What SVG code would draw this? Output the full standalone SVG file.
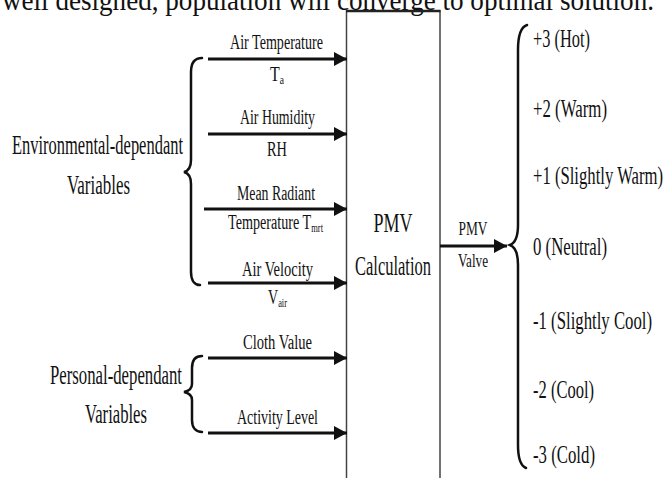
<svg xmlns="http://www.w3.org/2000/svg" width="665" height="478" viewBox="0 0 665 478">
<defs>
<style>
text{font-family:"Liberation Serif","Times New Roman",serif;fill:#111}
.lbl{font-size:20px}
.grp{font-size:27px}
.out{font-size:25px}
.conn{stroke:#111;stroke-width:3;fill:none}
.brace{stroke:#111;stroke-width:2.5;fill:none;stroke-linecap:round}
</style>
<marker id="ah" markerUnits="userSpaceOnUse" markerWidth="14" markerHeight="14" refX="13" refY="7" orient="auto">
<path d="M0,0 L13,7 L0,14 Z" fill="#111"/>
</marker>
</defs>
<rect width="665" height="478" fill="#fff"/>
<text x="2" y="10" font-size="29" textLength="652" lengthAdjust="spacingAndGlyphs">well designed, population will converge to optimal solution.</text>

<g id="pmv-calc">
<rect x="346.5" y="11" width="93.5" height="480" fill="none" stroke="#444" stroke-width="1.5"/>
<line x1="346" y1="11" x2="440.5" y2="11" stroke="#222" stroke-width="2.5"/>
<text x="393" y="232" font-size="27" text-anchor="middle" textLength="39" lengthAdjust="spacingAndGlyphs">PMV</text>
<text x="393" y="275" font-size="27" text-anchor="middle" textLength="76" lengthAdjust="spacingAndGlyphs">Calculation</text>
</g>

<g id="env-group">
<path class="brace" d="M202,58 C195,58 191,62 191,72 L191,160 C191,168 188,171 184,172 C188,173 191,176 191,184 L191,272 C191,281 195,285 200,285"/>
<text class="grp" x="12" y="154" textLength="171" lengthAdjust="spacingAndGlyphs">Environmental-dependant</text>
<text class="grp" x="67" y="194" textLength="63" lengthAdjust="spacingAndGlyphs">Variables</text>
</g>

<g id="personal-group">
<path class="brace" d="M202,356 C195,356 192,360 192,368 L192,384 C192,389 189,391 184,392 C189,393 192,395 192,400 L192,420 C192,428 196,432 202,432"/>
<text class="grp" x="50" y="384" textLength="132" lengthAdjust="spacingAndGlyphs">Personal-dependant</text>
<text class="grp" x="85" y="423" textLength="62" lengthAdjust="spacingAndGlyphs">Variables</text>
</g>

<g id="air-temperature">
<text class="lbl" x="230" y="49" textLength="93" lengthAdjust="spacingAndGlyphs">Air Temperature</text>
<text class="lbl" x="270" y="81" textLength="14" lengthAdjust="spacingAndGlyphs">T<tspan font-size="12" dy="3">a</tspan></text>
</g>
<g id="air-humidity">
<text class="lbl" x="240" y="124" textLength="75" lengthAdjust="spacingAndGlyphs">Air Humidity</text>
<text class="lbl" x="267" y="156" textLength="20" lengthAdjust="spacingAndGlyphs">RH</text>
</g>
<g id="mean-radiant">
<text class="lbl" x="237" y="200" textLength="78" lengthAdjust="spacingAndGlyphs">Mean Radiant</text>
<text class="lbl" x="228" y="229" textLength="95" lengthAdjust="spacingAndGlyphs">Temperature T<tspan font-size="12" dy="3">mrt</tspan></text>
</g>
<g id="air-velocity">
<text class="lbl" x="242" y="276" textLength="71" lengthAdjust="spacingAndGlyphs">Air Velocity</text>
<text class="lbl" x="268" y="304" textLength="19" lengthAdjust="spacingAndGlyphs">V<tspan font-size="12" dy="3">air</tspan></text>
</g>
<g id="cloth-value">
<text class="lbl" x="243" y="349" textLength="69" lengthAdjust="spacingAndGlyphs">Cloth Value</text>
</g>
<g id="activity-level">
<text class="lbl" x="237" y="424" textLength="81" lengthAdjust="spacingAndGlyphs">Activity Level</text>
</g>

<g id="pmv-scale">
<path class="brace" stroke-width="3" d="M527,25 C521,27 518,34 518,50 L518,225 C518,236 515,243 510,245 C515,247 518,254 518,265 L518,445 C518,460 521,466 526,468"/>
<text class="out" x="533" y="47" textLength="57" lengthAdjust="spacingAndGlyphs">+3 (Hot)</text>
<text class="out" x="533" y="117" textLength="74" lengthAdjust="spacingAndGlyphs">+2 (Warm)</text>
<text class="out" x="533" y="184" textLength="130" lengthAdjust="spacingAndGlyphs">+1 (Slightly Warm)</text>
<text class="out" x="533" y="255" textLength="74" lengthAdjust="spacingAndGlyphs">0 (Neutral)</text>
<text class="out" x="533" y="329" textLength="119" lengthAdjust="spacingAndGlyphs">-1 (Slightly Cool)</text>
<text class="out" x="533" y="398" textLength="61" lengthAdjust="spacingAndGlyphs">-2 (Cool)</text>
<text class="out" x="533" y="463" textLength="62" lengthAdjust="spacingAndGlyphs">-3 (Cold)</text>
</g>

<g id="connectors">
<line class="conn" x1="208" y1="59" x2="347" y2="59" marker-end="url(#ah)"/>
<line class="conn" x1="208" y1="134" x2="347" y2="134" marker-end="url(#ah)"/>
<line class="conn" x1="204" y1="209" x2="347" y2="209" marker-end="url(#ah)"/>
<line class="conn" x1="208" y1="283" x2="347" y2="283" marker-end="url(#ah)"/>
<line class="conn" x1="208" y1="358" x2="347" y2="358" marker-end="url(#ah)"/>
<line class="conn" x1="208" y1="433" x2="347" y2="433" marker-end="url(#ah)"/>
<line class="conn" x1="440" y1="246" x2="507" y2="246" marker-end="url(#ah)"/>
<text x="473" y="235" font-size="19" text-anchor="middle" textLength="29" lengthAdjust="spacingAndGlyphs">PMV</text>
<text x="473" y="267" font-size="19" text-anchor="middle" textLength="30" lengthAdjust="spacingAndGlyphs">Valve</text>
</g>
</svg>
